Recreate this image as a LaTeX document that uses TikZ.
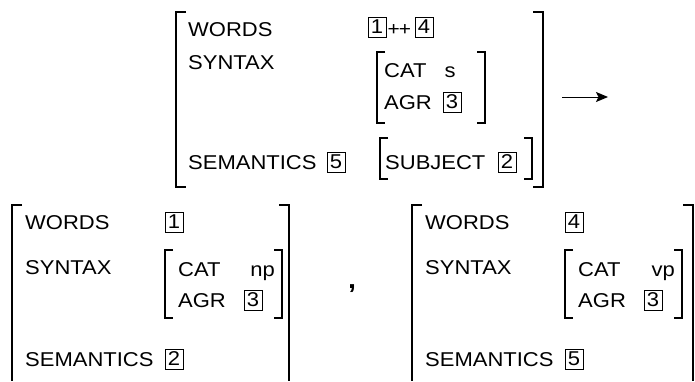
\documentclass[tikz,border=0pt]{standalone}
\usepackage{fontspec}
\setmainfont{Liberation Sans}[FakeStretch=1.1]
\usetikzlibrary{arrows.meta}
\begin{document}
\begin{tikzpicture}[x=1pt,y=-1pt,
  txt/.style={inner sep=0pt, font=\fontsize{20}{20}\selectfont},
  feat/.style={txt, anchor=base west},
  val/.style={txt, anchor=base},
  tag/.style={txt, draw, line width=0.8pt, minimum width=18pt, minimum height=20pt},
  brk/.style={line width=1.2pt, line cap=butt, line join=miter},
  conn/.style={line width=1pt, -{Stealth[length=12pt,width=10pt,inset=2.5pt]}}]
\useasboundingbox (0,0) rectangle (695,381);

% ---- mother: the phrase being built ----
\draw[brk] (186,12) -- (176,12) -- (176,187) -- (186,187);
\draw[brk] (533,12) -- (543,12) -- (543,187) -- (533,187);
\node[feat] (mw) at (188,36) {WORDS};
\node[tag] (mw1) at (377,27) {1};
\node[feat, font=\fontsize{19}{19}\selectfont] (mpp) at (387.5,35) {+\kern-1pt+};
\node[tag] (mw4) at (424,27) {4};
\node[feat] (ms) at (188,69) {SYNTAX};
\draw[brk] (385,52) -- (377,52) -- (377,123) -- (385,123);
\draw[brk] (477,52) -- (485,52) -- (485,123) -- (477,123);
\node[feat] (mcat) at (384,77) {CAT};
\node[val] (mcatv) at (450,77) {s};
\node[feat] (magr) at (384,109) {AGR};
\node[tag] (magr3) at (452,102) {3};
\node[feat] (msem) at (188,169) {SEMANTICS};
\node[tag] (msem5) at (336,162) {5};
\draw[brk] (388,138) -- (380,138) -- (380,179) -- (388,179);
\draw[brk] (524,138) -- (532,138) -- (532,179) -- (524,179);
\node[feat] (msubj) at (385,169) {SUBJECT};
\node[tag] (msubj2) at (507,162) {2};

% ---- rewrite arrow ----
\coordinate (ra) at (562,97);
\coordinate (rb) at (608,97);
\draw[conn] (ra) -- (rb);

% ---- first daughter ----
\draw[brk] (22,205) -- (12,205) -- (12,381);
\draw[brk] (279,205) -- (289,205) -- (289,381);
\node[feat] (aw) at (25,229) {WORDS};
\node[tag] (aw1) at (174,222) {1};
\node[feat] (as) at (25,274) {SYNTAX};
\draw[brk] (173,250) -- (165,250) -- (165,318) -- (173,318);
\draw[brk] (274,250) -- (282,250) -- (282,318) -- (274,318);
\node[feat] (acat) at (178,276) {CAT};
\node[feat, anchor=base east] (acatv) at (275,276) {np};
\node[feat] (aagr) at (178,307) {AGR};
\node[tag] (aagr3) at (253,300) {3};
\node[feat] (asem) at (25,366) {SEMANTICS};
\node[tag] (asem2) at (174,359) {2};

\node[txt, font=\fontsize{26}{26}\selectfont\bfseries] (comma) at (352,289) {,};

% ---- second daughter ----
\draw[brk] (422,205) -- (412,205) -- (412,381);
\draw[brk] (683,205) -- (693,205) -- (693,381);
\node[feat] (bw) at (425,229) {WORDS};
\node[tag] (bw4) at (574,222) {4};
\node[feat] (bs) at (425,274) {SYNTAX};
\draw[brk] (573,250) -- (565,250) -- (565,318) -- (573,318);
\draw[brk] (674,250) -- (682,250) -- (682,318) -- (674,318);
\node[feat] (bcat) at (578,276) {CAT};
\node[feat, anchor=base east] (bcatv) at (675,276) {vp};
\node[feat] (bagr) at (578,307) {AGR};
\node[tag] (bagr3) at (653,300) {3};
\node[feat] (bsem) at (425,366) {SEMANTICS};
\node[tag] (bsem5) at (574,359) {5};
\end{tikzpicture}
\end{document}
